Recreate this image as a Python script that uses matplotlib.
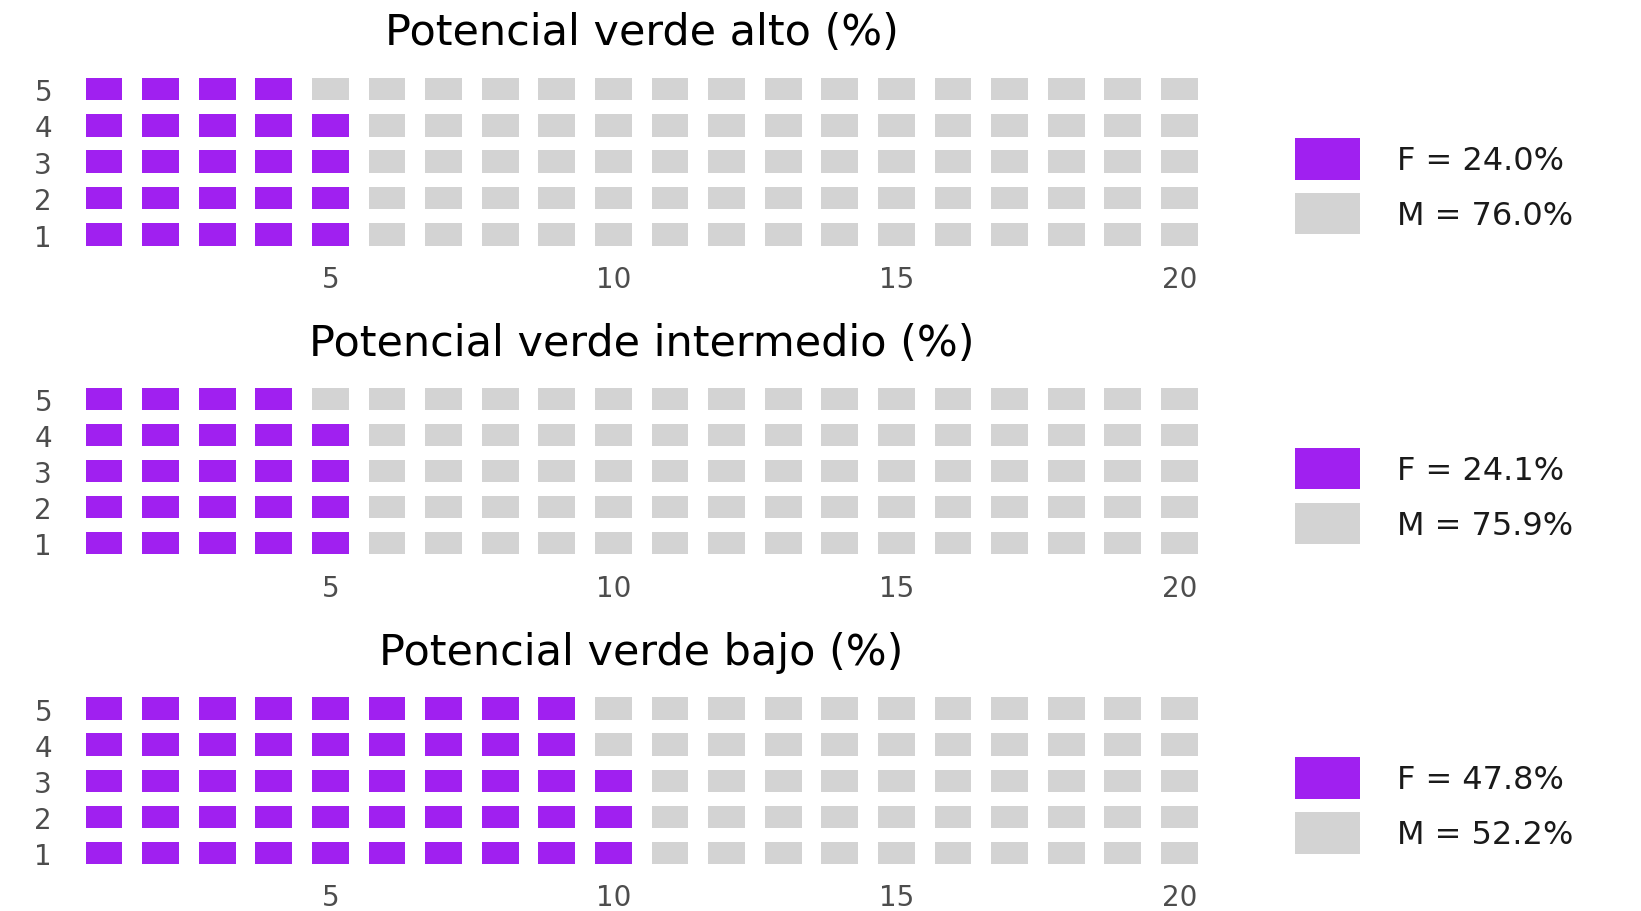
import matplotlib
matplotlib.use('Agg')
import matplotlib.pyplot as plt

# Datos de cada panel
titulos = ['Potencial verde alto (%)', 'Potencial verde intermedio (%)', 'Potencial verde bajo (%)']
pct_f = [24.0, 24.1, 47.8]
pct_m = [76.0, 75.9, 52.2]
cuadros_f = [24, 24, 48]   # cuadros morados de 100
n_cols = 20
n_filas = 5
xticks = [5, 10, 15, 20]
yticks = [1, 2, 3, 4, 5]

color_f = '#A020F0'
color_m = '#D3D3D3'

plt.rcParams['font.family'] = ['DejaVu Sans']

fig = plt.figure(figsize=(16.41, 9.12), dpi=100)

# posiciones de los paneles (fraccion de figura)
posiciones = [
    [0.0461, 0.7218, 0.6898, 0.1995],
    [0.0461, 0.3834, 0.6898, 0.1977],
    [0.0461, 0.0439, 0.6898, 0.1979],
]

ancho = 0.65
alto = 0.62

for i in range(3):
    ax = fig.add_axes(posiciones[i])
    total = n_cols * n_filas
    xs_f, ys_f, xs_m, ys_m = [], [], [], []
    for k in range(total):
        col = k // n_filas + 1
        fila = k % n_filas + 1
        if k < cuadros_f[i]:
            xs_f.append(col)
            ys_f.append(fila)
        else:
            xs_m.append(col)
            ys_m.append(fila)
    ax.bar(xs_f, alto, width=ancho, bottom=[y - alto / 2 for y in ys_f],
           color=color_f, label='F = %.1f%%' % pct_f[i], linewidth=0)
    ax.bar(xs_m, alto, width=ancho, bottom=[y - alto / 2 for y in ys_m],
           color=color_m, label='M = %.1f%%' % pct_m[i], linewidth=0)

    ax.set_xlim(0.5, n_cols + 0.5)
    ax.set_ylim(0.5, n_filas + 0.5)
    ax.set_xticks(xticks)
    ax.set_yticks(yticks)
    ax.tick_params(axis='both', length=0, labelsize=20, labelcolor='#4D4D4D')
    ax.tick_params(axis='x', pad=9)
    ax.tick_params(axis='y', pad=17)
    for s in ax.spines.values():
        s.set_visible(False)
    ax.set_title(titulos[i], fontsize=31, pad=19, color='black')

    ax.legend(loc='upper left', bbox_to_anchor=(1.077, 0.63), frameon=False,
              fontsize=23, handlelength=2.04, handleheight=1.62,
              labelspacing=0.42, handletextpad=1.15, borderpad=0,
              borderaxespad=0, labelcolor='#1A1A1A')

fig.savefig('out.png', dpi=100)
